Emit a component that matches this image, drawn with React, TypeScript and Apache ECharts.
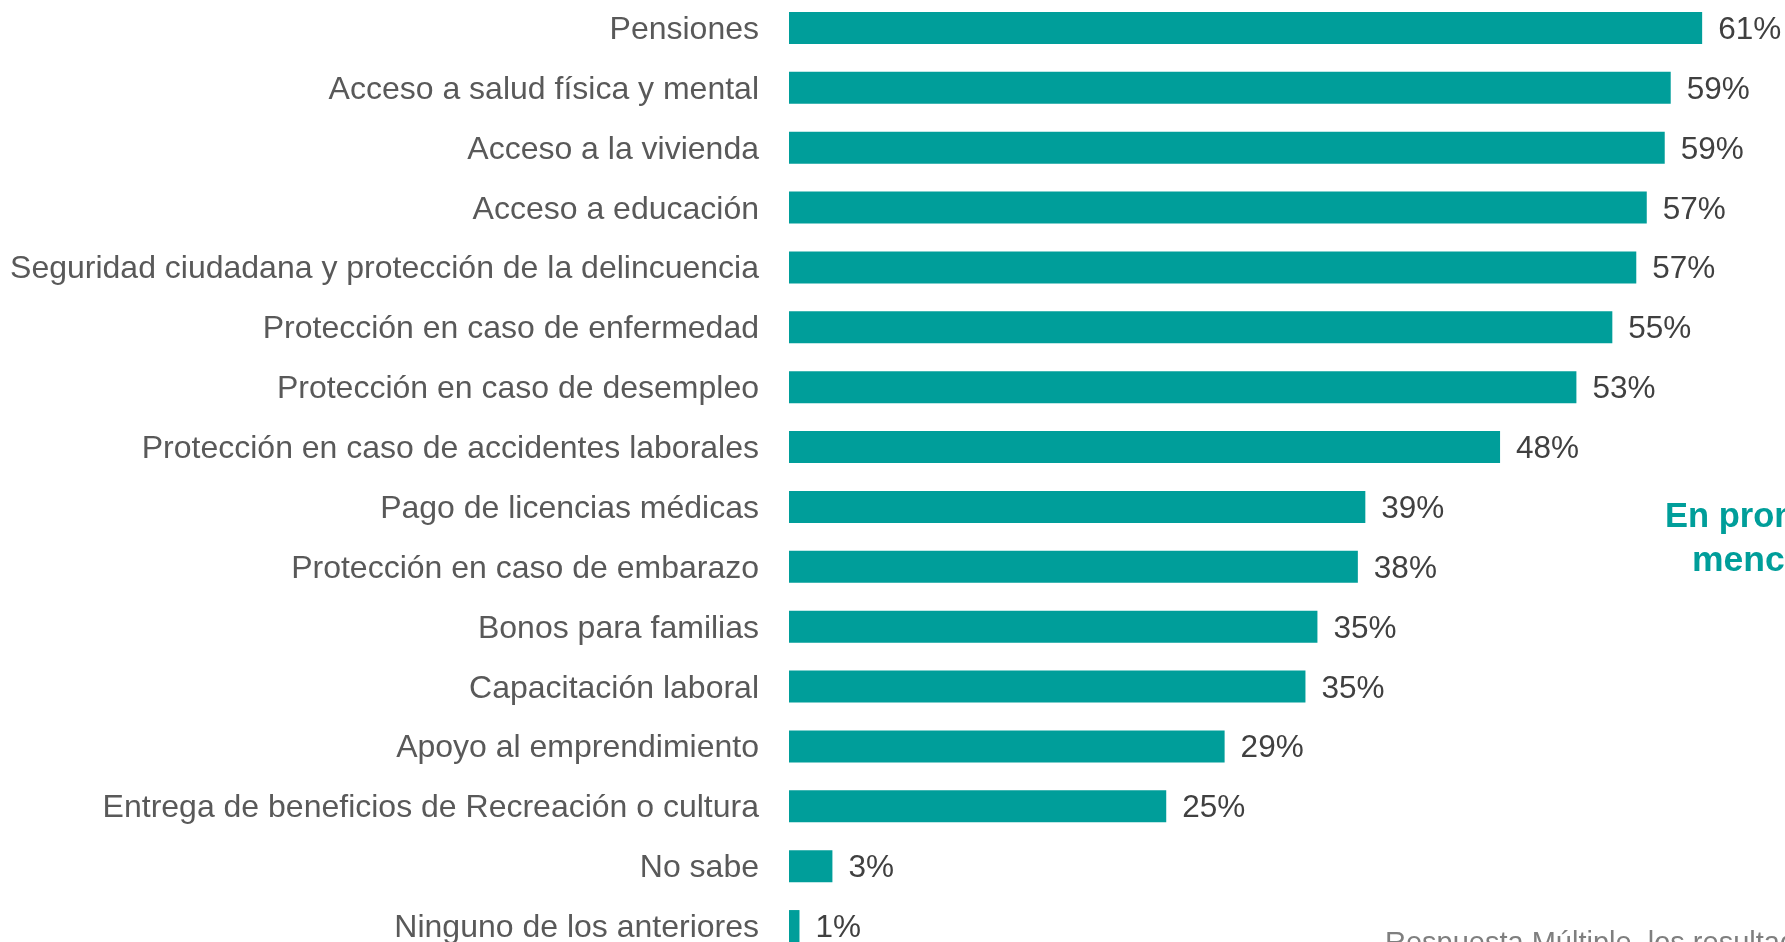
import React, { useEffect, useRef } from "react";
import * as echarts from "echarts";

const categories = [
  "Pensiones",
  "Acceso a salud física y mental",
  "Acceso a la vivienda",
  "Acceso a educación",
  "Seguridad ciudadana y protección de la delincuencia",
  "Protección en caso de enfermedad",
  "Protección en caso de desempleo",
  "Protección en caso de accidentes laborales",
  "Pago de licencias médicas",
  "Protección en caso de embarazo",
  "Bonos para familias",
  "Capacitación laboral",
  "Apoyo al emprendimiento",
  "Entrega de beneficios de Recreación o cultura",
  "No sabe",
  "Ninguno de los anteriores",
];

const values = [61.0, 58.9, 58.5, 57.3, 56.6, 55.0, 52.6, 47.5, 38.5, 38.0, 35.3, 34.5, 29.1, 25.2, 2.9, 0.7];

const sideLines = ["En promedio", "mencionan"];
const footnote = "Respuesta Múltiple, los resultados no suman 100%";

const FONT = "Liberation Sans, Arial, sans-serif";
const OFFSET = 2; // inner chart is shifted up by this many pixels

export default function App() {
  const ref = useRef<HTMLDivElement>(null);
  useEffect(() => {
    if (!ref.current) return;
    const chart = echarts.init(ref.current, null, { renderer: "svg" });
    chart.setOption({
      animation: false,
      grid: { left: 789, width: 988, top: 0, bottom: 0, containLabel: false },
      xAxis: {
        type: "value",
        min: 0,
        max: 66,
        show: false,
      },
      yAxis: {
        type: "category",
        data: categories,
        inverse: true,
        axisLine: { show: false },
        axisTick: { show: false },
        axisLabel: {
          margin: 30,
          color: "#595959",
          fontSize: 32,
          fontFamily: FONT,
        },
      },
      series: [
        {
          type: "bar",
          data: values,
          barWidth: 32,
          itemStyle: { color: "#009E9A" },
          label: {
            show: true,
            position: "right",
            distance: 16,
            color: "#404040",
            fontSize: 31.5,
            fontFamily: FONT,
            formatter: (p: any) => Math.round(p.value) + "%",
          },
        },
      ],
      graphic: [
        {
          type: "text",
          x: 1665,
          y: 515 + OFFSET,
          style: {
            text: sideLines[0],
            fill: "#009E9A",
            font: "bold 34.5px " + FONT,
            verticalAlign: "middle",
          },
        },
        {
          type: "text",
          x: 1692,
          y: 559 + OFFSET,
          style: {
            text: sideLines[1],
            fill: "#009E9A",
            font: "bold 35.5px " + FONT,
            verticalAlign: "middle",
          },
        },
        {
          type: "text",
          x: 1385,
          y: 942 + OFFSET,
          style: {
            text: footnote,
            fill: "#7F7F7F",
            font: "29px " + FONT,
            verticalAlign: "middle",
          },
        },
      ],
    });
    return () => chart.dispose();
  }, []);
  return (
    <div
      style={{ position: "fixed", left: 0, top: 0, width: 1785, height: 942, overflow: "hidden" }}
    >
      <div
        ref={ref}
        style={{ position: "absolute", left: 0, top: -OFFSET, width: 1785, height: 958 }}
      />
    </div>
  );
}
